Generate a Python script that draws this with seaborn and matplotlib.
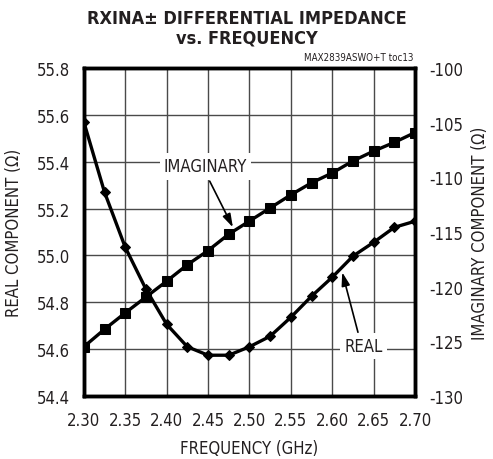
import numpy as np
import pandas as pd
import seaborn as sns
import matplotlib.pyplot as plt

# frequency points (GHz)
freq = [2.300, 2.325, 2.350, 2.375, 2.400, 2.425, 2.450, 2.475, 2.500,
        2.525, 2.550, 2.575, 2.600, 2.625, 2.650, 2.675, 2.700]
# real component (ohm), left axis
real = [55.57, 55.27, 55.035, 54.856, 54.706, 54.61, 54.574, 54.574, 54.61,
        54.655, 54.736, 54.826, 54.907, 54.997, 55.056, 55.12, 55.146]
# imaginary component (ohm), right axis
imag = [-125.5, -123.9, -122.4, -120.95, -119.5, -118.0, -116.7, -115.2, -114.0,
        -112.8, -111.6, -110.5, -109.6, -108.5, -107.6, -106.8, -105.9]

x_ticks = [2.30, 2.35, 2.40, 2.45, 2.50, 2.55, 2.60, 2.65, 2.70]
left_ticks = [54.4, 54.6, 54.8, 55.0, 55.2, 55.4, 55.6, 55.8]
right_ticks = [-130, -125, -120, -115, -110, -105, -100]

sns.set_style("white")
plt.rcParams['font.family'] = ['Liberation Sans Narrow', 'DejaVu Sans']
plt.rcParams['font.stretch'] = 'condensed'
txt = '#231f20'

df = pd.DataFrame({'freq': freq, 'real': real, 'imag': imag})

fig = plt.figure(figsize=(4.93, 4.60), dpi=100)
ax = fig.add_axes([0.170, 0.137, 0.672, 0.713])
ax2 = ax.twinx()

# grid on left axis
ax.set_xlim(2.30, 2.70)
ax.set_ylim(54.4, 55.8)
ax.set_xticks(x_ticks)
ax.set_xticklabels([f'{v:.2f}' for v in x_ticks])
ax.set_yticks(left_ticks)
ax.set_yticklabels([f'{v:.1f}' for v in left_ticks])
ax.grid(True, color='#4a4a4a', linewidth=1.0)
ax.set_axisbelow(True)

sns.lineplot(data=df, x='freq', y='real', ax=ax, color='black', linewidth=2.4,
             marker='D', markersize=5, markeredgecolor='black', zorder=5)
sns.lineplot(data=df, x='freq', y='imag', ax=ax2, color='black', linewidth=2.4,
             marker='s', markersize=6.5, markeredgecolor='black', zorder=5)

ax2.set_ylim(-130, -100)
ax2.set_yticks(right_ticks)
ax2.set_yticklabels([str(v) for v in right_ticks])

for a in (ax, ax2):
    a.tick_params(length=0, labelsize=12, colors=txt, pad=10)
    for s in a.spines.values():
        s.set_linewidth(2.5)
        s.set_color('black')

ax.tick_params(axis='x', pad=11)
ax.set_xlabel('FREQUENCY (GHz)', fontsize=12, color=txt, labelpad=7)
ax.set_ylabel('REAL COMPONENT (\u03a9)', fontsize=12, color=txt, labelpad=10)
ax2.set_ylabel('IMAGINARY COMPONENT (\u03a9)', fontsize=12, color=txt, labelpad=6)

# callouts
ax.text(2.447, 55.38, 'IMAGINARY', ha='center', va='center', fontsize=12, color=txt,
        bbox=dict(fc='white', ec='none', pad=3), zorder=4)
ax.annotate('', xy=(2.480, 55.12), xytext=(2.452, 55.317),
            arrowprops=dict(arrowstyle='-|>,head_length=0.8,head_width=0.25',
                            color='black', lw=1.2, shrinkA=0, shrinkB=0), zorder=6)
ax.text(2.638, 54.612, 'REAL', ha='center', va='center', fontsize=12, color=txt,
        bbox=dict(fc='white', ec='none', pad=3), zorder=4)
ax.annotate('', xy=(2.612, 54.928), xytext=(2.631, 54.672),
            arrowprops=dict(arrowstyle='-|>,head_length=0.8,head_width=0.25',
                            color='black', lw=1.2, shrinkA=0, shrinkB=0), zorder=6)

fig.text(0.5, 0.978, 'RXINA\u00b1 DIFFERENTIAL IMPEDANCE\nvs. FREQUENCY', ha='center', va='top',
         fontsize=13, fontweight='bold', color=txt, linespacing=1.1)
fig.text(0.838, 0.862, 'MAX2839ASWO+T toc13', ha='right', va='bottom', fontsize=7, color=txt)

fig.savefig('out.png', dpi=100)
